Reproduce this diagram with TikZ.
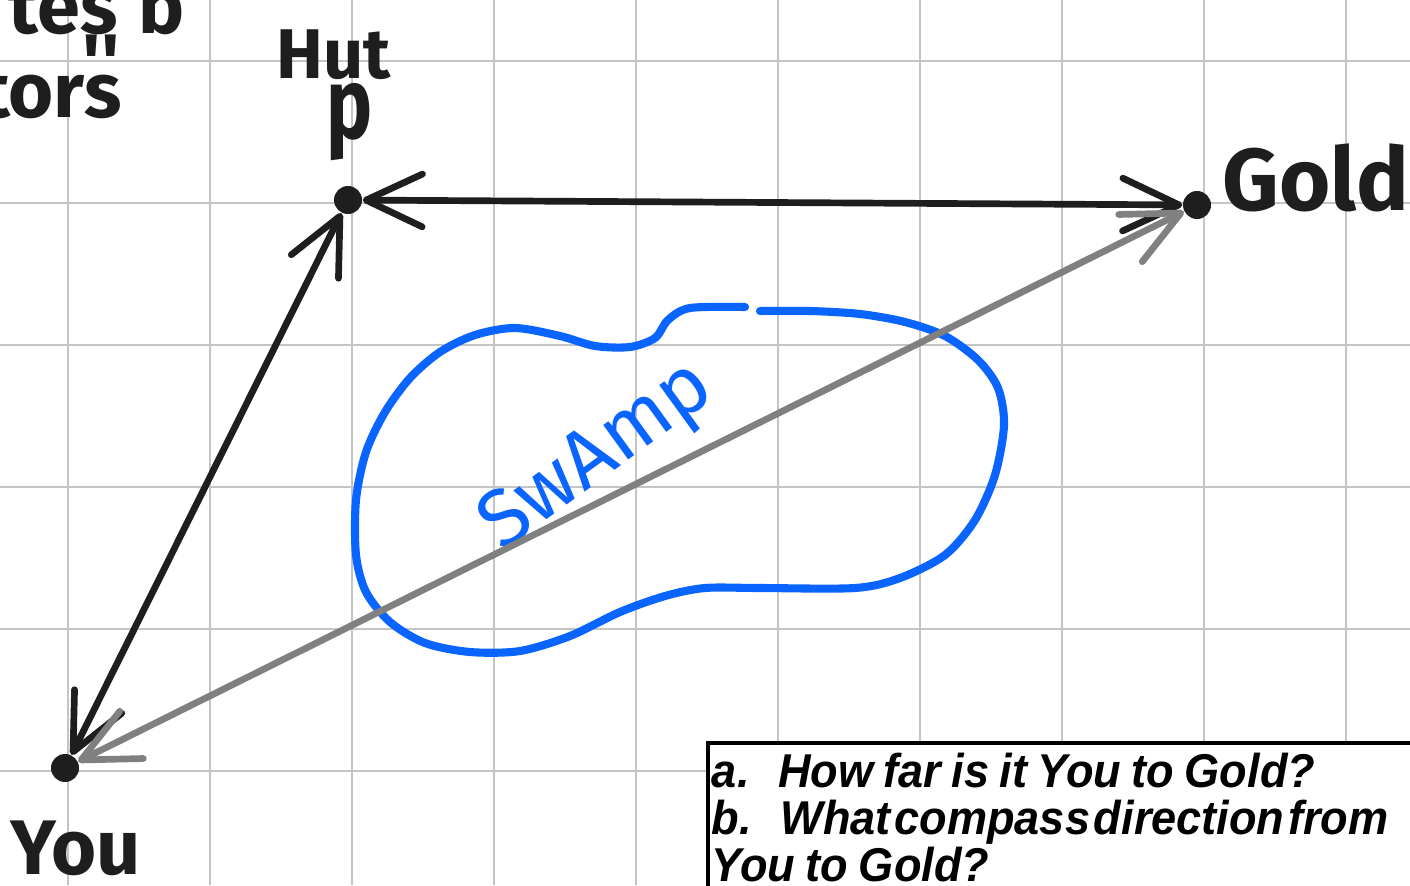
\documentclass[tikz,border=0pt]{standalone}
\usepackage{fontspec}
\usetikzlibrary{arrows.meta}
\newfontfamily\hand{Fira Sans}
\newfontfamily\boxfont[FakeStretch=0.95]{Liberation Sans}
\newcommand\wordgap[1]{\spaceskip=#1em\relax}
\definecolor{ink}{HTML}{1E1E1E}
\definecolor{swampblue}{HTML}{0A64FF}
\definecolor{pathgray}{HTML}{808080}
\definecolor{gridgray}{HTML}{C4C4C4}
\tikzset{
  dot/.style={circle,fill=ink,inner sep=0pt,minimum size=0.28cm},
  vec/.style={line width=1.9pt,line cap=round,
    {Straight Barb[length=16pt,width=15pt,round]}-{Straight Barb[length=16pt,width=15pt,round]}},
  handlabel/.style={font=\hand\bfseries\fontsize{22}{22}\selectfont,text=ink,inner sep=0pt},
  qbox/.style={draw=black,line width=1pt,fill=white,align=left,text width=7.3cm,
    inner xsep=1.2pt,inner ysep=3pt,
    font=\boxfont\bfseries\itshape\fontsize{13.5}{13.3}\selectfont}
}
\begin{document}
\begin{tikzpicture}[x=0.01cm,y=-0.01cm]
\useasboundingbox (0,0) rectangle (1410,885);
\fill[white] (0,0) rectangle (1410,885);
% grid
\foreach \gx in {68,210,...,1350} \draw[gridgray,line width=0.6pt] (\gx,0) -- (\gx,885);
\foreach \gy in {61,203,...,780} \draw[gridgray,line width=0.6pt] (0,\gy) -- (1410,\gy);
% leftover notes
\node[handlabel,anchor=base east] (note1) at (118,34) {tes};
\node[handlabel,anchor=base west] (note2) at (138,34) {b};
\node[handlabel] (ditto) at (101,62) {''};
\node[handlabel,anchor=base east] (note3) at (122,118) {ctors};
% swamp
\draw[swampblue,line width=2.3pt,line cap=round] plot[smooth,tension=0.5] coordinates {
  (745,307) (690,308) (668,320) (655,338) (630,347) (595,346) (560,336)
  (515,328) (475,335) (440,352) (410,378) (385,412) (366,452) (356,500)
  (356,555) (366,592) (390,622) (425,643) (470,652) (520,651) (570,636)
  (620,612) (665,596) (705,588) (760,588) (855,588) (900,578) (945,555)
  (975,520) (995,475) (1004,425) (998,388) (978,360) (945,336) (905,322)
  (860,314) (810,311) (760,311)};
\node[swampblue,rotate=36,font=\hand\fontsize{23}{23}\selectfont] (swamp) at (598,458) {SwAmp};
% points
\node[dot] (hut) at (348,200) {};
\node[dot] (gold) at (1197,205) {};
\node[dot] (you) at (65,768) {};
% vectors
\draw[vec,ink] (you) -- (hut);
\draw[vec,ink] (hut) -- (gold);
\draw[vec,pathgray] (you) -- (gold);
% labels
\node[handlabel,font=\hand\bfseries\fontsize{20}{20}\selectfont] (hutlabel) at (334,55) {Hut};
\node[handlabel] (pin) at (350,122) {\scalebox{1}[1.3]{p}};
\node[handlabel,font=\hand\bfseries\fontsize{25}{25}\selectfont] (goldlabel) at (1316,178) {Gold};
\node[handlabel] (youlabel) at (76,848) {You};
% questions
\node[qbox,anchor=north west] (task) at (706,741) {\wordgap{0.22}a.\hspace{0.6em}How far is it You to Gold?\\
\wordgap{0.08}b.\hspace{0.6em}What compass direction from\\
\wordgap{0.22}You to Gold?};
\end{tikzpicture}
\end{document}
